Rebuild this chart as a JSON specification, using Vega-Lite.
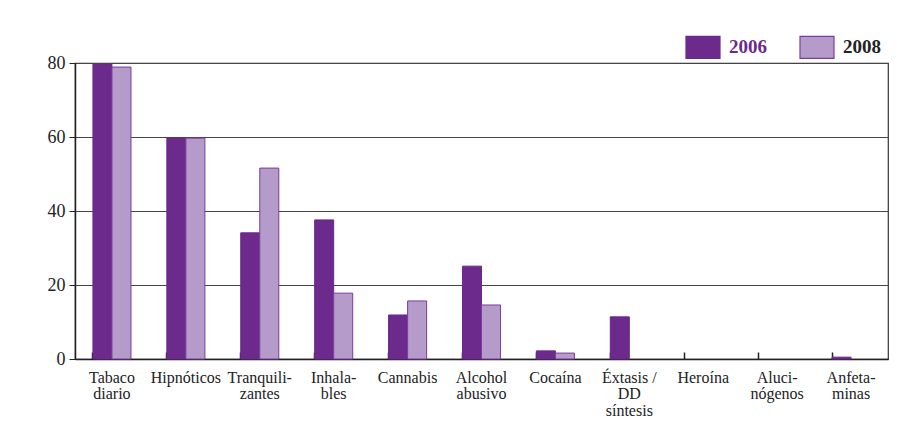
{
  "$schema": "https://vega.github.io/schema/vega-lite/v6.json",
  "autosize": {"type": "none"},
  "padding": {"left": 75, "top": 63, "right": 16, "bottom": 76},
  "width": 813,
  "height": 296,
  "background": "white",
  "config": {
    "font": "Liberation Serif",
    "axis": {"labelFont": "Liberation Serif"},
    "legend": {"labelFont": "Liberation Serif"},
    "view": {"stroke": "#333", "strokeWidth": 1.2}
  },
  "data": {
    "values": [
      {"sustancia": "Tabaco|diario", "anio": "2006", "valor": 79.7},
      {"sustancia": "Tabaco|diario", "anio": "2008", "valor": 78.9},
      {"sustancia": "Hipnóticos", "anio": "2006", "valor": 59.7},
      {"sustancia": "Hipnóticos", "anio": "2008", "valor": 59.7},
      {"sustancia": "Tranquili-|zantes", "anio": "2006", "valor": 34.1},
      {"sustancia": "Tranquili-|zantes", "anio": "2008", "valor": 51.6},
      {"sustancia": "Inhala-|bles", "anio": "2006", "valor": 37.6},
      {"sustancia": "Inhala-|bles", "anio": "2008", "valor": 17.8},
      {"sustancia": "Cannabis", "anio": "2006", "valor": 11.9},
      {"sustancia": "Cannabis", "anio": "2008", "valor": 15.7},
      {"sustancia": "Alcohol|abusivo", "anio": "2006", "valor": 25.1},
      {"sustancia": "Alcohol|abusivo", "anio": "2008", "valor": 14.6},
      {"sustancia": "Cocaína", "anio": "2006", "valor": 2.2},
      {"sustancia": "Cocaína", "anio": "2008", "valor": 1.6},
      {"sustancia": "Éxtasis /|DD|síntesis", "anio": "2006", "valor": 11.4},
      {"sustancia": "Éxtasis /|DD|síntesis", "anio": "2008", "valor": 0},
      {"sustancia": "Heroína", "anio": "2006", "valor": 0},
      {"sustancia": "Heroína", "anio": "2008", "valor": 0},
      {"sustancia": "Aluci-|nógenos", "anio": "2006", "valor": 0},
      {"sustancia": "Aluci-|nógenos", "anio": "2008", "valor": 0},
      {"sustancia": "Anfeta-|minas", "anio": "2006", "valor": 0.5},
      {"sustancia": "Anfeta-|minas", "anio": "2008", "valor": 0}
    ]
  },
  "mark": {"type": "bar", "strokeWidth": 1},
  "encoding": {
    "x": {
      "field": "sustancia",
      "type": "nominal",
      "sort": null,
      "title": null,
      "scale": {"paddingInner": 0.485, "paddingOuter": 0.2425},
      "axis": {
        "bandPosition": 0,
        "labelExpr": "split(datum.label, '|')",
        "labelAngle": 0,
        "labelFont": "Liberation Serif",
        "labelFontSize": 16,
        "labelLineHeight": 16.5,
        "labelColor": "#222",
        "labelPadding": 17,
        "labelLimit": 0,
        "tickSize": -7,
        "tickColor": "#222",
        "tickWidth": 1.5,
        "domainColor": "#222",
        "domainWidth": 1.5
      }
    },
    "xOffset": {"field": "anio", "type": "nominal"},
    "y": {
      "field": "valor",
      "type": "quantitative",
      "title": null,
      "scale": {"domain": [0, 80], "nice": false},
      "axis": {
        "values": [0, 20, 40, 60, 80],
        "labelFont": "Liberation Serif",
        "labelFontSize": 18,
        "labelColor": "#222",
        "labelPadding": 4,
        "tickSize": 6,
        "tickColor": "#222",
        "domainColor": "#222",
        "domainWidth": 1.5,
        "grid": true,
        "gridColor": "#444",
        "gridWidth": 1.2
      }
    },
    "color": {
      "field": "anio",
      "type": "nominal",
      "title": null,
      "scale": {"domain": ["2006", "2008"], "range": ["#6b2a8c", "#b49bc9"]},
      "legend": {
        "orient": "none",
        "direction": "horizontal",
        "legendX": 610,
        "legendY": -34,
        "symbolType": "M-1,-0.647L1,-0.647L1,0.647L-1,0.647Z",
        "symbolSize": 1156,
        "symbolStrokeColor": "#7a3c9e",
        "symbolStrokeWidth": 1.2,
        "symbolOpacity": 1,
        "labelFont": "Liberation Serif",
        "labelFontSize": 19,
        "labelFontWeight": "bold",
        "labelOffset": 8,
        "columnPadding": 30,
        "labelColor": {"expr": "datum.value == '2006' ? '#6b2a8c' : '#222'"}
      }
    },
    "stroke": {
      "field": "anio",
      "type": "nominal",
      "scale": {"domain": ["2006", "2008"], "range": ["#6b2a8c", "#7a3c9e"]},
      "legend": null
    },
    "strokeOpacity": {
      "condition": {"test": "datum.valor <= 0", "value": 0},
      "value": 1
    }
  }
}
